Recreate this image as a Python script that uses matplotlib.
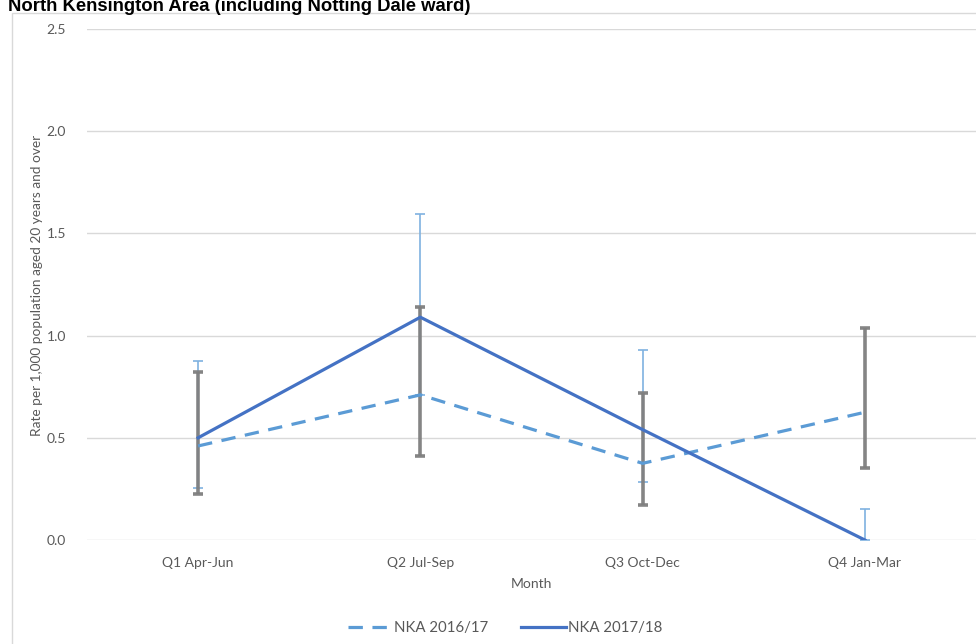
import matplotlib
matplotlib.use("Agg")
import matplotlib.pyplot as plt
from matplotlib.patches import Rectangle
from matplotlib.lines import Line2D

categories = ["Q1 Apr-Jun", "Q2 Jul-Sep", "Q3 Oct-Dec", "Q4 Jan-Mar"]
nka_1617 = [0.46, 0.71, 0.375, 0.625]
nka_1617_low = [0.225, 0.41, 0.17, 0.35]
nka_1617_high = [0.82, 1.14, 0.72, 1.035]
nka_1718 = [0.50, 1.09, 0.54, 0.0]
nka_1718_low = [0.255, 0.71, 0.285, 0.0]
nka_1718_high = [0.875, 1.595, 0.93, 0.15]
yticks = [0.0, 0.5, 1.0, 1.5, 2.0, 2.5]

W, H = 976, 644
fig = plt.figure(figsize=(W / 100, H / 100), dpi=100)
font = ["Lato", "DejaVu Sans"]
txtc = "#595959"

ax = fig.add_axes([87 / W, 1 - 540 / H, 889 / W, (540 - 29) / H])
x = list(range(len(categories)))

# error bars
e1 = [[v - l for v, l in zip(nka_1718, nka_1718_low)], [h - v for v, h in zip(nka_1718, nka_1718_high)]]
ax.errorbar(x, nka_1718, yerr=e1, fmt="none", ecolor="#7fb2e0", elinewidth=1.2,
            capsize=3.5, capthick=1.2, zorder=3)
e2 = [[v - l for v, l in zip(nka_1617, nka_1617_low)], [h - v for v, h in zip(nka_1617, nka_1617_high)]]
ax.errorbar(x, nka_1617, yerr=e2, fmt="none", ecolor="#7f7f7f", elinewidth=2.6,
            capsize=3.8, capthick=2.6, zorder=4, alpha=0.95)

ax.plot(x, nka_1617, color="#5b9bd5", lw=2.3, dashes=(4.5, 3), zorder=5, solid_capstyle="butt")
ax.plot(x, nka_1718, color="#4472c4", lw=2.3, zorder=6)

ax.set_xlim(-0.5, 3.5)
ax.set_ylim(0, 2.5)
ax.set_yticks(yticks)
ax.set_yticklabels([f"{v:.1f}" for v in yticks], family=font, fontsize=10, color=txtc)
ax.set_xticks(x)
ax.set_xticklabels(categories, family=font, fontsize=10, color=txtc)
ax.tick_params(axis="y", length=0, pad=15)
ax.tick_params(axis="x", length=0, pad=12)
ax.grid(axis="y", color="#d9d9d9", lw=1)
ax.set_axisbelow(True)
for s in ax.spines.values():
    s.set_visible(False)

ax.set_xlabel("Month", family=font, fontsize=10, color=txtc, labelpad=7)
fig.text(37 / W, 1 - 285 / H, "Rate per 1,000 population aged 20 years and over",
         rotation=90, ha="center", va="center", family=font, fontsize=9.8, color=txtc)

# chart border
fig.add_artist(Rectangle((11.5 / W, -0.1), 2, 1 - 12.5 / H + 0.1, transform=fig.transFigure,
                         fill=False, ec="#d9d9d9", lw=1))

fig.text(8 / W, 1 - 11 / H, "North Kensington Area (including Notting Dale ward)",
         ha="left", va="baseline", family=["Liberation Sans", "DejaVu Sans"],
         fontweight="bold", fontsize=13.3, color="black")

handles = [Line2D([], [], color="#5b9bd5", lw=2.3, dashes=(4.5, 3)),
           Line2D([], [], color="#4472c4", lw=2.3)]
fig.legend(handles, ["NKA 2016/17", "NKA 2017/18"], loc="center", bbox_to_anchor=(505 / W, 1 - 628 / H),
           ncol=2, frameon=False, prop={"family": font, "size": 10.8}, labelcolor=txtc,
           handlelength=3, handletextpad=0.1, columnspacing=2.2)

fig.savefig("out.png", dpi=100)
